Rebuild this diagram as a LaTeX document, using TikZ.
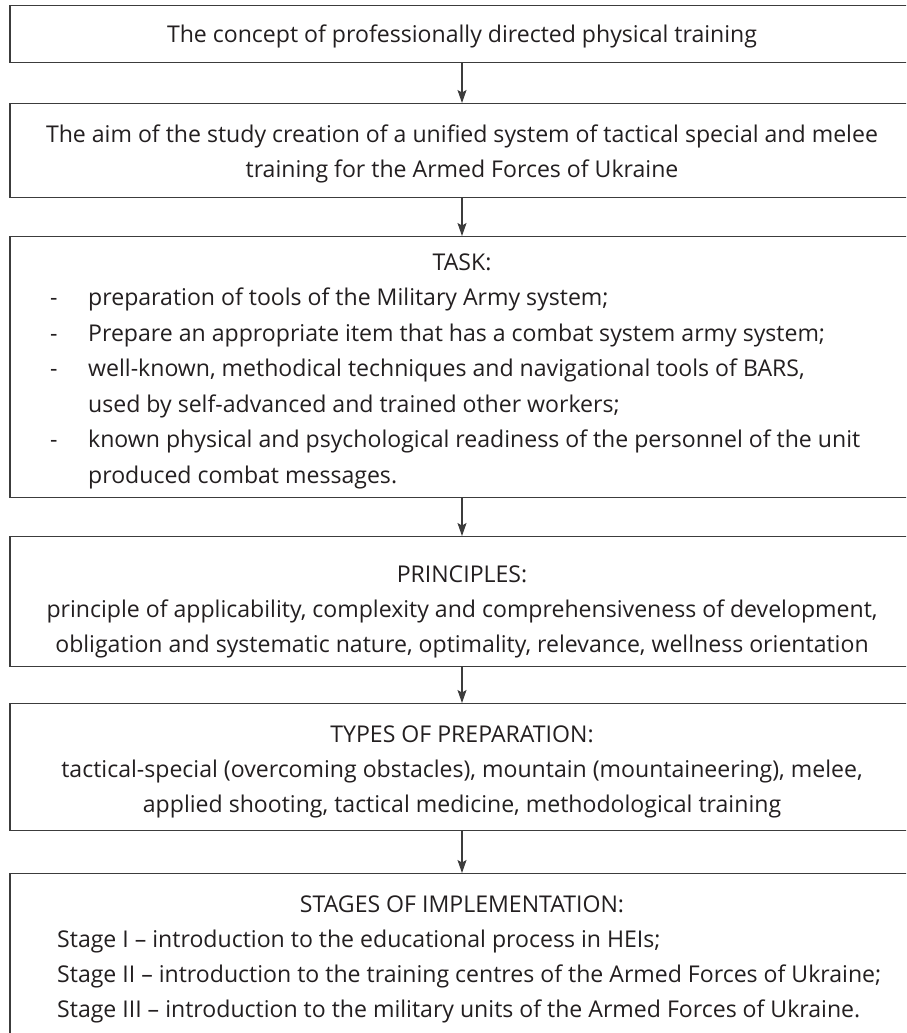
\documentclass[tikz,border=0pt]{standalone}
\usepackage{fontspec}
\setmainfont{Open Sans}
\usetikzlibrary{arrows.meta}
\definecolor{ink}{HTML}{231F20}
\definecolor{rulec}{HTML}{3C3C3C}
\newlength\reflen
\begin{document}
\settowidth{\reflen}{\fontsize{10pt}{12pt}\selectfont The concept of professionally directed physical training}%
\pgfmathsetmacro\fsz{5900/\reflen}%
\begin{tikzpicture}[x=1pt,y=-1pt]
\tikzset{
  box/.style={draw=rulec, line width=1.3pt, minimum width=904pt, inner sep=0pt, anchor=north},
  txt/.style={inner sep=0pt, text=ink, font=\fontsize{\fsz pt}{35pt}\selectfont},
  ctr/.style={txt, anchor=base},
  lft/.style={txt, anchor=base west},
  arr/.style={draw=rulec, line width=1.2pt, -{Stealth[length=13pt,width=9pt,inset=2.5pt]}}
}
\useasboundingbox (0,0) rectangle (906,1033);
\clip (0,0) rectangle (906,1033);
% boxes
\node[box, minimum height=57pt]  (b1) at (462,5)   {};
\node[box, minimum height=94pt]  (b2) at (462,103) {};
\node[box, minimum height=261pt] (b3) at (462,236) {};
\node[box, minimum height=130pt] (b4) at (462,536) {};
\node[box, minimum height=127pt] (b5) at (462,703) {};
\node[box, minimum height=175pt] (b6) at (462,873) {};
% connectors
\draw[arr] (b1.south) -- (b2.north);
\draw[arr] (b2.south) -- (b3.north);
\draw[arr] (b3.south) -- (b4.north);
\draw[arr] (b4.south) -- (b5.north);
\draw[arr] (b5.south) -- (b6.north);
% box 1
\node[ctr] (t1) at (462,43) {The concept of professionally directed physical training};
% box 2
\node[ctr] (t2a) at (462,142) {The aim of the study creation of a unified system of tactical special and melee};
\node[ctr] (t2b) at (462,177) {training for the Armed Forces of Ukraine};
% box 3
\node[ctr] (t3h) at (462,270) {TASK:};
\node[lft] (d31) at (50,305.5) {-};
\node[lft] (d32) at (50,341) {-};
\node[lft] (d33) at (50,376.5) {-};
\node[lft] (d34) at (50,447.5) {-};
\node[lft] (t31) at (88,305.5) {preparation of tools of the Military Army system;};
\node[lft] (t32) at (88,341) {Prepare an appropriate item that has a combat system army system;};
\node[lft] (t33) at (88,376.5) {well-known, methodical techniques and navigational tools of BARS,};
\node[lft] (t34) at (88,412) {used by self-advanced and trained other workers;};
\node[lft] (t35) at (88,447.5) {known physical and psychological readiness of the personnel of the unit};
\node[lft] (t36) at (88,483) {produced combat messages.};
% box 4
\node[ctr] (t4h) at (462,582) {PRINCIPLES:};
\node[ctr] (t4a) at (462,617) {principle of applicability, complexity and comprehensiveness of development,};
\node[ctr] (t4b) at (462,652) {obligation and systematic nature, optimality, relevance, wellness orientation};
% box 5
\node[ctr] (t5h) at (462,742) {TYPES OF PREPARATION:};
\node[ctr] (t5a) at (462,777) {tactical-special (overcoming obstacles), mountain (mountaineering), melee,};
\node[ctr] (t5b) at (462,812) {applied shooting, tactical medicine, methodological training};
% box 6
\node[ctr] (t6h) at (462,912) {STAGES OF IMPLEMENTATION:};
\node[lft] (t61) at (57,947)  {Stage I – introduction to the educational process in HEIs;};
\node[lft] (t62) at (57,982)  {Stage II – introduction to the training centres of the Armed Forces of Ukraine;};
\node[lft] (t63) at (57,1017) {Stage III – introduction to the military units of the Armed Forces of Ukraine.};
\end{tikzpicture}
\end{document}
